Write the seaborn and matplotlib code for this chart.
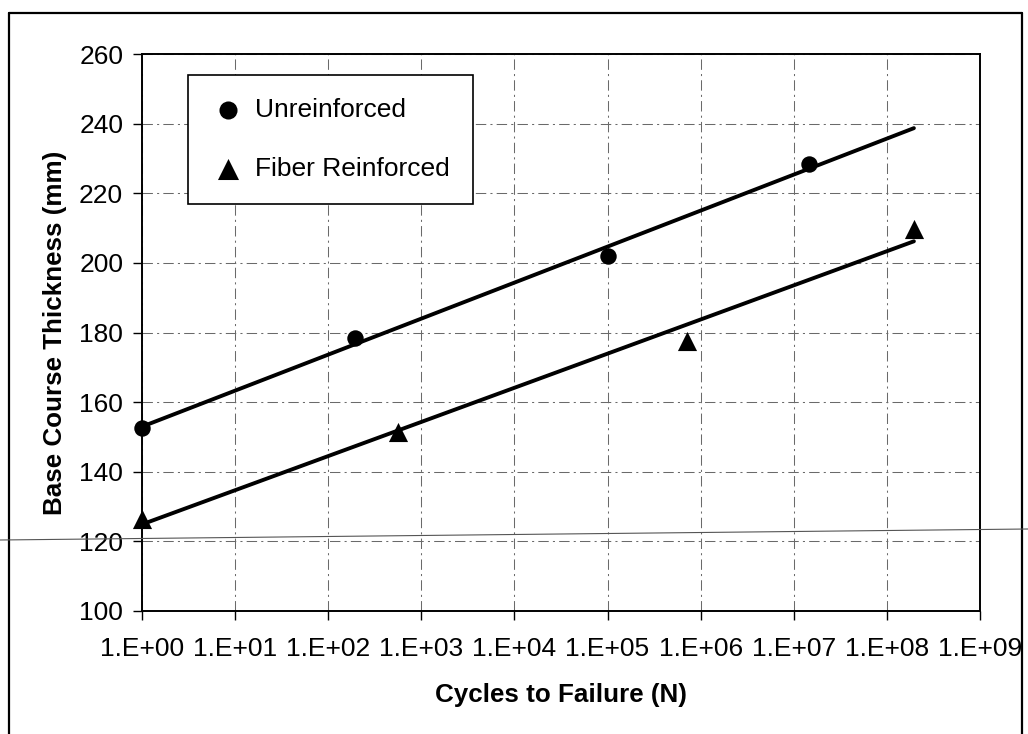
import numpy as np
import pandas as pd
import matplotlib
matplotlib.use("Agg")
import matplotlib.pyplot as plt
from matplotlib.lines import Line2D
from matplotlib.ticker import FixedLocator, FixedFormatter, NullLocator
import seaborn as sns

# ---- data ----
unrein_cycles = [1.0, 195.0, 1.0e5, 1.45e7]
unrein_thick = [152.5, 178.5, 202.0, 228.3]
fiber_cycles = [1.0, 565.0, 7.2e5, 1.95e8]
fiber_thick = [126.5, 151.5, 177.7, 209.6]
series_names = ["Unreinforced", "Fiber Reinforced"]
x_tick_values = [1e0, 1e1, 1e2, 1e3, 1e4, 1e5, 1e6, 1e7, 1e8, 1e9]
x_tick_labels = ["1.E+00", "1.E+01", "1.E+02", "1.E+03", "1.E+04",
                 "1.E+05", "1.E+06", "1.E+07", "1.E+08", "1.E+09"]
y_tick_values = [100, 120, 140, 160, 180, 200, 220, 240, 260]

sns.set_style("white")
plt.rcParams["font.family"] = ["Liberation Sans", "DejaVu Sans"]
plt.rcParams["text.color"] = "black"
plt.rcParams["axes.labelcolor"] = "black"

W, H = 1028, 734
fig = plt.figure(figsize=(W / 100, H / 100), dpi=100)
L, R, T, B = 142, 980, 54, 611
ax = fig.add_axes([L / W, 1 - B / H, (R - L) / W, (B - T) / H])

ax.set_xscale("log")

df_u = pd.DataFrame({"x": unrein_cycles, "y": unrein_thick})
df_f = pd.DataFrame({"x": fiber_cycles, "y": fiber_thick})

# logarithmic trend lines (least squares on log10 x), spanning the data range
x_lo = min(min(unrein_cycles), min(fiber_cycles))
x_hi = max(max(unrein_cycles), max(fiber_cycles))
for d in (df_u, df_f):
    slope, icpt = np.polyfit(np.log10(d["x"]), d["y"], 1)
    xs = np.array([x_lo, x_hi])
    tr = pd.DataFrame({"x": xs, "y": icpt + slope * np.log10(xs)})
    sns.lineplot(data=tr, x="x", y="y", ax=ax, color="black", lw=2.8,
                 legend=False, zorder=3)

sns.scatterplot(data=df_u, x="x", y="y", ax=ax, marker="o", s=140,
                color="black", edgecolor="black", linewidth=0,
                label=series_names[0], zorder=4, clip_on=False)
sns.scatterplot(data=df_f, x="x", y="y", ax=ax, marker="^", s=190,
                color="black", edgecolor="black", linewidth=0,
                label=series_names[1], zorder=4, clip_on=False)

ax.set_xlim(x_tick_values[0], x_tick_values[-1])
ax.set_ylim(y_tick_values[0], y_tick_values[-1])
ax.xaxis.set_major_locator(FixedLocator(x_tick_values))
ax.xaxis.set_major_formatter(FixedFormatter(x_tick_labels))
ax.xaxis.set_minor_locator(NullLocator())
ax.set_yticks(y_tick_values)

ax.grid(True, which="major", color="#6a6a6a", lw=0.75,
        linestyle=(0, (10, 4, 2, 4)))
ax.set_axisbelow(True)

for sp in ax.spines.values():
    sp.set_visible(True)
    sp.set_color("black")
    sp.set_linewidth(1.4)

ax.tick_params(axis="both", which="major", direction="out", length=6.5,
               width=1.0, color="black", labelsize=19, labelcolor="black",
               bottom=True, left=True)
ax.tick_params(axis="x", pad=12)
ax.tick_params(axis="y", pad=7)

ax.set_xlabel("Cycles to Failure (N)", fontsize=18.7, fontweight="bold",
              labelpad=16, color="black")
ax.set_ylabel("Base Course Thickness (mm)", fontsize=18.7, fontweight="bold",
              labelpad=8.5, color="black")

leg = ax.legend(loc="upper left", bbox_to_anchor=(0.055, 0.962),
                borderaxespad=0, fontsize=19, frameon=True, fancybox=False,
                edgecolor="black", borderpad=0.85, handlelength=1.3,
                handletextpad=0.4, labelspacing=1.35, framealpha=1,
                markerscale=1.1)
leg.get_frame().set_linewidth(1.2)
for t in leg.get_texts():
    t.set_color("black")

# outer chart-area border (extends past the bottom of the scan)
fig.add_artist(Line2D([9 / W, 9 / W], [-0.1, 1 - 13 / H],
                      transform=fig.transFigure, color="black", lw=1.6))
fig.add_artist(Line2D([9 / W, 1022 / W], [1 - 13 / H, 1 - 13 / H],
                      transform=fig.transFigure, color="black", lw=1.6))
fig.add_artist(Line2D([1022 / W, 1022 / W], [-0.1, 1 - 13 / H],
                      transform=fig.transFigure, color="black", lw=1.6))
# thin stray scan line across the page
fig.add_artist(Line2D([0, 1], [1 - 540 / H, 1 - 529 / H],
                      transform=fig.transFigure, color="#555555", lw=0.8))

fig.savefig("out.png", dpi=100, facecolor="white")
